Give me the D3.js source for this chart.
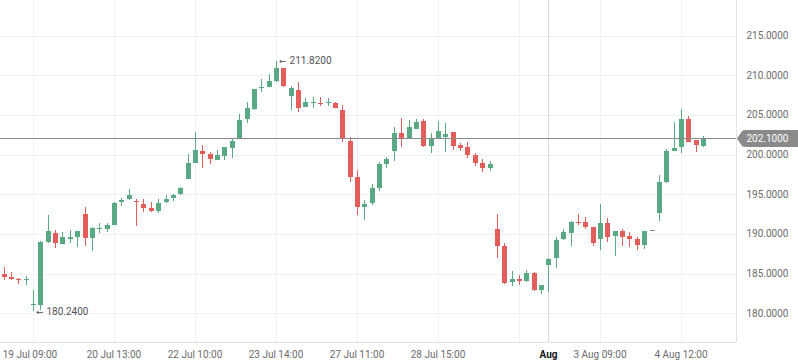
<!DOCTYPE html>
<meta charset="utf-8">
<style>
    body { margin: 0; background: #fff; }
    text { font-family: Roboto, sans-serif; font-size: 10px; }
    .grid line { stroke: #f0f1f3; stroke-width: 1px; shape-rendering: crispEdges; }
    .axis-label { fill: #6b6b6b; }
</style>
<svg width="798" height="363"></svg>
<script src="https://d3js.org/d3.v7.min.js"></script>
<script>

    // hourly candles, 19 Jul - 4 Aug
    var opens = [184.91, 184.57, 184.36, 184.15, 181.10, 181.04, 188.94, 190.12, 188.77, 189.40,
        189.60, 192.55, 189.53, 190.70, 190.62, 191.17, 193.99, 194.37, 194.15, 193.78,
        193.27, 192.93, 193.99, 194.49, 195.00, 196.97, 198.98, 200.46, 200.04, 199.36,
        199.87, 200.88, 202.06, 204.53, 205.72, 208.44, 208.57, 209.32, 210.93, 207.43,
        208.15, 206.05, 206.55, 206.55, 206.51, 206.55, 205.63, 201.72, 197.14, 193.44,
        193.94, 195.83, 198.82, 200.46, 202.73, 202.10, 203.27, 204.24, 201.13, 202.06,
        202.26, 202.85, 201.21, 200.96, 199.92, 198.90, 198.35, 190.62, 188.48, 183.98,
        184.28, 184.07, 185.04, 182.93, 186.12, 186.97, 189.32, 190.16, 191.51, 191.51,
        190.87, 189.36, 191.38, 189.74, 190.37, 189.74, 189.36, 188.64, 190.45, 192.60,
        196.51, 200.50, 201.00, 204.46, 201.85, 201.13, 202.10];
    var highs = [185.79, 185.20, 184.44, 184.70, 182.93, 189.10, 192.39, 190.50, 190.20, 190.50,
        190.41, 193.44, 190.84, 191.42, 191.42, 194.03, 194.49, 195.67, 194.41, 194.41,
        194.03, 194.41, 194.91, 195.00, 195.92, 200.08, 202.89, 201.22, 200.33, 200.58,
        201.00, 202.06, 205.12, 206.68, 208.32, 209.54, 210.13, 211.82, 210.93, 208.69,
        209.16, 207.18, 207.23, 207.23, 207.10, 206.68, 206.26, 202.19, 198.06, 194.28,
        196.26, 199.11, 199.74, 203.49, 204.62, 204.37, 204.50, 204.50, 202.73, 204.24,
        203.99, 202.85, 201.47, 201.59, 200.21, 199.45, 199.20, 192.51, 188.90, 185.33,
        184.82, 185.45, 185.20, 183.56, 186.93, 189.61, 190.62, 191.67, 192.51, 192.14,
        190.87, 193.78, 192.01, 190.33, 190.62, 190.24, 189.61, 190.37, 190.45, 197.43,
        200.67, 204.08, 205.76, 204.87, 201.85, 202.35, 202.10];
    var lows = [184.19, 184.19, 183.73, 183.60, 180.24, 180.41, 188.82, 188.23, 188.73, 188.80,
        188.39, 188.52, 187.89, 190.16, 190.20, 191.10, 193.56, 194.28, 191.04, 192.77,
        192.77, 192.60, 193.86, 194.20, 194.95, 196.97, 198.98, 198.35, 198.82, 199.36,
        199.32, 199.61, 202.06, 203.95, 205.63, 207.86, 208.57, 209.20, 208.57, 205.63,
        205.41, 206.05, 205.92, 206.17, 206.17, 205.84, 201.63, 196.59, 192.39, 191.76,
        193.65, 195.45, 198.32, 199.24, 201.00, 202.10, 203.27, 200.96, 200.24, 202.06,
        200.33, 200.62, 200.50, 199.58, 198.61, 197.85, 197.98, 187.00, 183.69, 183.47,
        183.56, 183.98, 182.80, 182.43, 182.72, 185.70, 189.24, 188.48, 191.17, 190.62,
        188.48, 187.97, 189.02, 187.22, 188.52, 188.35, 187.97, 188.10, 190.45, 191.67,
        196.42, 200.50, 200.24, 201.63, 200.37, 201.00, 202.10];
    var closes = [184.57, 184.32, 184.15, 184.36, 181.17, 188.98, 190.37, 188.81, 189.58, 189.60,
        190.37, 189.53, 190.75, 190.80, 191.13, 193.94, 194.28, 194.91, 194.07, 193.31,
        192.93, 193.86, 194.41, 194.95, 195.83, 198.95, 200.58, 200.12, 199.49, 199.92,
        200.96, 201.68, 204.37, 205.88, 208.28, 208.50, 209.29, 210.93, 208.69, 208.40,
        205.84, 206.64, 206.64, 206.35, 206.60, 205.92, 201.97, 197.22, 193.44, 193.78,
        195.79, 198.82, 199.41, 202.73, 202.14, 203.49, 204.12, 201.13, 202.01, 202.98,
        202.60, 201.13, 200.87, 199.99, 198.99, 198.35, 198.82, 188.52, 183.85, 184.32,
        184.10, 185.04, 182.93, 183.52, 186.84, 189.24, 190.21, 191.51, 191.38, 190.87,
        188.90, 191.38, 189.65, 190.33, 189.65, 189.36, 188.64, 190.37, 190.45, 196.59,
        200.46, 200.80, 204.46, 201.63, 201.18, 201.93, 202.10];

    var xTickIndex = [4, 15, 26, 37, 48, 59, 70, 74, 81, 92];
    var xTickLabels = ["19 Jul 09:00", "20 Jul 13:00", "22 Jul 10:00", "23 Jul 14:00", "27 Jul 11:00",
        "28 Jul 15:00", "", "Aug", "3 Aug 09:00", "4 Aug 12:00"];
    var yTicks = [180, 185, 190, 195, 200, 205, 210, 215];

    var upColor = "#5aa985", downColor = "#e35d5a", flatColor = "#8c8c8c";

    var svg = d3.select("svg"),
        plotW = 736,
        plotH = 342;

    var candles = opens.map(function (o, i) {
        return {i: i, o: o, h: highs[i], l: lows[i], c: closes[i]};
    });

    var x = d3.scaleLinear().domain([0, candles.length - 1]).range([3.5, 710.5]);
    var y = d3.scaleLinear().domain([176.37, 219.5]).range([plotH, 0]);

    // grid
    var grid = svg.append("g").attr("class", "grid");
    grid.selectAll("line.h")
        .data(yTicks)
        .enter().append("line")
        .attr("x1", 0).attr("x2", plotW)
        .attr("y1", d => Math.round(y(d)) + 0.5)
        .attr("y2", d => Math.round(y(d)) + 0.5);
    grid.selectAll("line.v")
        .data(xTickIndex)
        .enter().append("line")
        .attr("x1", d => Math.round(x(d)) + 0.5)
        .attr("x2", d => Math.round(x(d)) + 0.5)
        .attr("y1", 0).attr("y2", plotH)
        .style("stroke", (d, k) => xTickLabels[k] === "Aug" ? "#dadce0" : null);

    // candles
    function color(d) {
        if (d.c === d.o) return flatColor;
        return d.c > d.o ? upColor : downColor;
    }

    var candle = svg.append("g")
        .attr("shape-rendering", "crispEdges")
        .selectAll("g")
        .data(candles)
        .enter().append("g");

    candle.append("rect")
        .attr("x", d => Math.round(x(d.i)))
        .attr("width", 1)
        .attr("y", d => Math.round(y(d.h)))
        .attr("height", d => Math.max(1, Math.round(y(d.l)) - Math.round(y(d.h))))
        .attr("fill", color);

    candle.append("rect")
        .attr("x", d => Math.round(x(d.i)) - 2)
        .attr("width", 5)
        .attr("y", d => Math.round(y(Math.max(d.o, d.c))))
        .attr("height", d => Math.max(1, Math.round(y(Math.min(d.o, d.c))) - Math.round(y(Math.max(d.o, d.c)))))
        .attr("fill", color);

    // high / low markers
    var hi = d3.greatestIndex(highs), lo = d3.leastIndex(lows);
    [[hi, highs[hi]], [lo, lows[lo]]].forEach(function (m) {
        var t = svg.append("text")
            .attr("x", x(m[0]) + 3)
            .attr("y", y(m[1]))
            .attr("dy", "0.35em")
            .attr("fill", "#555");
        t.append("tspan").style("font-family", "'DejaVu Sans'").style("font-size", "9px").text("\u2190");
        t.append("tspan").attr("dx", 3).text(m[1].toFixed(4));
    });

    // last price line
    var last = closes[closes.length - 1];
    var ly = Math.round(y(last)) + 0.5;
    svg.append("line")
        .attr("x1", 0).attr("x2", plotW)
        .attr("y1", ly).attr("y2", ly)
        .attr("stroke", "#8a8a8a")
        .attr("stroke-width", 1);

    // axes borders
    svg.append("line")
        .attr("x1", plotW + 0.5).attr("x2", plotW + 0.5)
        .attr("y1", 0).attr("y2", plotH)
        .attr("stroke", "#e0e3e8");
    svg.append("line")
        .attr("x1", 0).attr("x2", plotW)
        .attr("y1", plotH + 0.5).attr("y2", plotH + 0.5)
        .attr("stroke", "#e0e3e8");

    // y axis labels
    svg.append("g").selectAll("text")
        .data(yTicks)
        .enter().append("text")
        .attr("class", "axis-label")
        .attr("x", 746.5)
        .attr("y", d => y(d))
        .attr("dy", "0.35em")
        .text(d => d.toFixed(4));

    // last price label
    var bx = plotW + 1, bt = ly - 8.5, bb = ly + 8.5;
    svg.append("path")
        .attr("d", "M" + bx + "," + ly + "L" + (bx + 5) + "," + (bt + 1) +
            "Q" + (bx + 6) + "," + bt + " " + (bx + 9) + "," + bt +
            "L798," + bt + "L798," + bb + "L" + (bx + 9) + "," + bb +
            "Q" + (bx + 6) + "," + bb + " " + (bx + 5) + "," + (bb - 1) + "Z")
        .attr("fill", "#8a8a8a");
    svg.append("text")
        .attr("x", 746.5)
        .attr("y", ly)
        .attr("dy", "0.35em")
        .attr("fill", "#fff")
        .text(last.toFixed(4));

    // x axis labels
    svg.append("g").selectAll("text")
        .data(xTickIndex)
        .enter().append("text")
        .attr("class", "axis-label")
        .attr("x", (d, k) => x(d) - (k === 0 ? 3 : 0))
        .attr("y", 354.5)
        .attr("dy", "0.35em")
        .attr("text-anchor", "middle")
        .style("fill", (d, k) => xTickLabels[k] === "Aug" ? "#131722" : null)
        .style("font-weight", (d, k) => xTickLabels[k] === "Aug" ? "bold" : null)
        .text((d, k) => xTickLabels[k]);

</script>
